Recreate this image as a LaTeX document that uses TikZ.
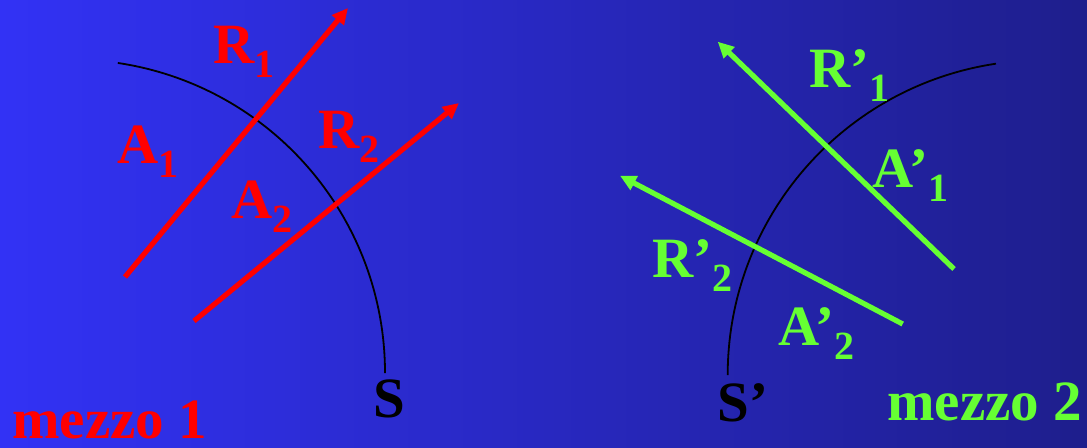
\documentclass[tikz,border=0pt]{standalone}
\usepackage{fontspec}
\setmainfont{Liberation Serif}
\usetikzlibrary{arrows.meta}
\definecolor{bgleft}{RGB}{50,50,245}
\definecolor{bgright}{RGB}{30,30,140}
\definecolor{raygreen}{RGB}{102,255,51}
\newcommand{\lowsub}[1]{\raisebox{-7pt}{\fontsize{20}{20}\selectfont #1}}
\tikzset{
  lbl/.style={font=\fontsize{28.5}{28.5}\selectfont\bfseries, inner sep=0pt, anchor=base west},
  redray/.style={red, line width=2.6pt, -{Triangle[length=8pt,width=7.5pt]}},
  greenray/.style={raygreen, line width=2.6pt, -{Triangle[length=8pt,width=7.5pt]}},
  front/.style={black, line width=0.9pt}
}
\begin{document}
\begin{tikzpicture}[x=0.5pt, y=0.5pt]
  \useasboundingbox (0,0) rectangle (1087,447);
  \shade[left color=bgleft, right color=bgright] (0,0) rectangle (1087,447);
  % wave fronts
  \draw[front] (71.5,74) ++(81.5:313.5) arc[start angle=81.5, end angle=0, radius=313.5];
  \draw[front] (1042.5,72) ++(180:314.8) arc[start angle=180, end angle=98.5, radius=314.8];
  % rays in medium 1
  \coordinate (a1s) at (125,170);
  \coordinate (a1e) at (348,439);
  \coordinate (a2s) at (194,126);
  \coordinate (a2e) at (459,344);
  \draw[redray] (a1s) -- (a1e);
  \draw[redray] (a2s) -- (a2e);
  % rays in medium 2
  \coordinate (r1s) at (954,178);
  \coordinate (r1e) at (717.7,405.3);
  \coordinate (r2s) at (902.7,123);
  \coordinate (r2e) at (620,271.3);
  \draw[greenray] (r1s) -- (r1e);
  \draw[greenray] (r2s) -- (r2e);
  % labels
  \node[lbl, red] (R1) at (213,384) {R\lowsub{1}};
  \node[lbl, red] (A1) at (117,284) {A\lowsub{1}};
  \node[lbl, red] (R2) at (318,299) {R\lowsub{2}};
  \node[lbl, red] (A2) at (231,229) {A\lowsub{2}};
  \node[lbl] (S) at (373,30) {S};
  \node[lbl, red] (m1) at (12,9) {mezzo 1};
  \node[lbl, raygreen] (Rp1) at (809,360) {R’\lowsub{1}};
  \node[lbl, raygreen] (Ap1) at (872,260) {A’\lowsub{1}};
  \node[lbl, raygreen] (Rp2) at (652,170) {R’\lowsub{2}};
  \node[lbl, raygreen] (Ap2) at (778,102) {A’\lowsub{2}};
  \node[lbl] (Sp) at (717,26) {S’};
  \node[lbl, raygreen] (m2) at (887,27) {mezzo 2};
\end{tikzpicture}
\end{document}
